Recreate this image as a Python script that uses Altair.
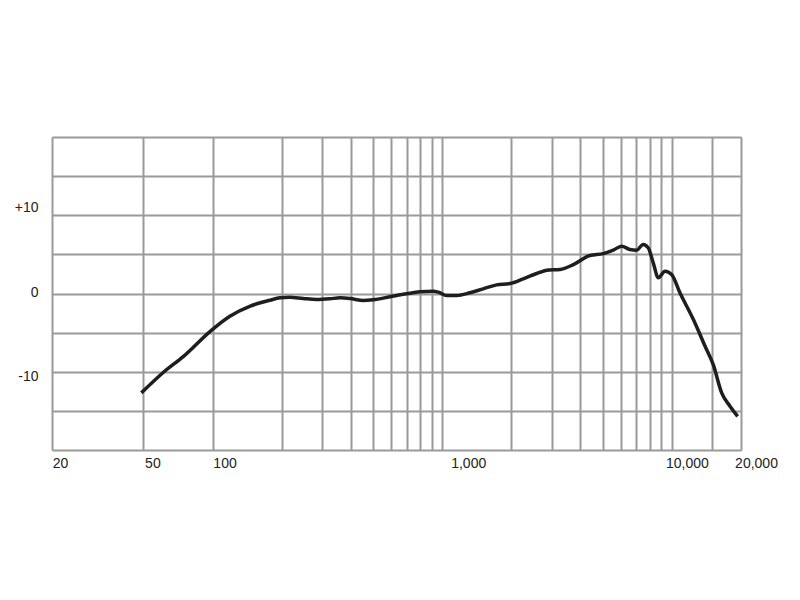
import altair as alt
import pandas as pd

# Frequency response curve (Hz, dB)
freq_hz = [49, 61, 75, 98, 119, 146, 178, 197, 217, 248, 284, 324, 359, 397, 453, 501,
           592, 700, 800, 914, 962, 1045, 1156, 1321, 1510, 1726, 1972, 2255, 2667, 2851,
           3259, 3725, 4397, 5026, 5557, 6044, 6565, 7025, 7501, 7885, 8295, 8727, 9334,
           9977, 10843, 12393, 13935, 15145, 16477, 17915, 19339]
level_db = [-12.7, -10.1, -8.0, -4.8, -2.9, -1.6, -0.86, -0.55, -0.47, -0.64, -0.77, -0.68,
            -0.55, -0.64, -0.9, -0.8, -0.42, -0.04, 0.22, 0.29, 0.17, -0.26, -0.26, 0.09,
            0.6, 1.1, 1.28, 1.88, 2.72, 2.98, 3.07, 3.7, 4.86, 5.1, 5.54, 6.05, 5.63, 5.54,
            6.27, 5.84, 3.93, 2.0, 2.85, 2.43, 0.09, -3.3, -6.7, -9.1, -12.7, -14.4, -15.7]

# Grid / tick values
x_grid = [20, 50, 100, 200, 300, 400, 500, 600, 700, 800, 900, 1000, 2000, 3000, 4000,
          5000, 6000, 7000, 8000, 9000, 10000, 15000, 20000]
x_labels = {20: "20", 50: "50", 100: "100", 1000: "1,000", 10000: "10,000", 20000: "20,000"}
y_grid = [-20, -15, -10, -5, 0, 5, 10, 15, 20]
y_labels = {10: "+10", 0: "0", -10: "-10"}

df = pd.DataFrame({"freq": freq_hz, "db": level_db})

GRID = "#9a9a9a"
FONT = "Liberation Sans"

x_label_expr = " : ".join(
    [f"datum.value == {k} ? '{v}'" for k, v in x_labels.items()]) + " : ''"
y_label_expr = " : ".join(
    [f"datum.value == {k} ? '{v}'" for k, v in y_labels.items()]) + " : ''"

x_offset = {
    "condition": [
        {"test": "datum.value == 20", "value": 8},
        {"test": "datum.value == 50", "value": 9},
        {"test": "datum.value == 100", "value": 12},
        {"test": "datum.value == 1000", "value": 26},
    ],
    "value": 15,
}
y_offset = {
    "condition": [
        {"test": "datum.value == 10", "value": -8},
        {"test": "datum.value == 0", "value": -1.5},
    ],
    "value": 5,
}

chart = alt.Chart(df).mark_line(
    color="#1e1e1e", strokeWidth=3.5, interpolate="monotone"
).encode(
    x=alt.X(
        "freq:Q",
        scale=alt.Scale(type="log", domain=[20, 20000], nice=False),
        axis=alt.Axis(
            values=x_grid, labelExpr=x_label_expr, title=None, ticks=False,
            domain=False, grid=True, gridColor=GRID, gridWidth=2, gridOpacity=1,
            labelFont=FONT, labelFontSize=14, labelColor="#222222",
            labelPadding=6, labelOverlap=False, labelFlush=False, labelBound=False,
            labelOffset=x_offset,
        ),
    ),
    y=alt.Y(
        "db:Q",
        scale=alt.Scale(domain=[-20, 20], nice=False, zero=False),
        axis=alt.Axis(
            values=y_grid, labelExpr=y_label_expr, title=None, ticks=False,
            domain=False, grid=True, gridColor=GRID, gridWidth=2, gridOpacity=1,
            labelFont=FONT, labelFontSize=14, labelColor="#222222",
            labelPadding=14, labelOverlap=False, labelFlush=False, labelBound=False,
            labelOffset=y_offset,
        ),
    ),
).properties(
    width=689,
    height=313,
    autosize=alt.AutoSizeParams(type="none"),
    padding={"left": 44, "top": 129, "right": 51, "bottom": 142},
).configure_view(
    stroke=GRID, strokeWidth=2
).configure(background="white")

chart.save("out.html", embed_options={"renderer": "svg", "actions": False})
